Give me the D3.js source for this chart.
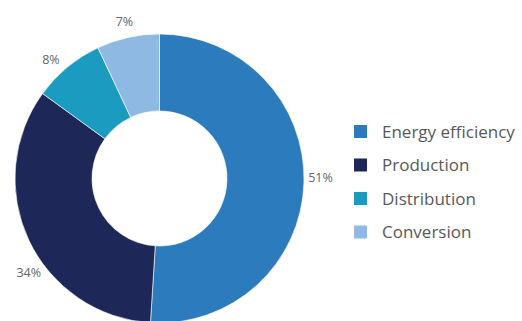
<!DOCTYPE html>
<html>
<head>
<meta charset="utf-8">
<script src="https://cdn.jsdelivr.net/npm/d3@7"></script>
<style>
  html, body { margin: 0; padding: 0; background: #fff; }
  svg { display: block; }
  text { font-family: "Open Sans", "Noto Sans", sans-serif; }
</style>
</head>
<body>
<svg id="chart" width="522" height="321"></svg>
<script>
// Share of spending by area (percent)
const categories = ["Energy efficiency", "Production", "Distribution", "Conversion"];
const shares = [51, 34, 8, 7];
const shareLabels = ["51%", "34%", "8%", "7%"];
const colors = ["#2c7bbd", "#1e2858", "#1b9bc0", "#8db9e2"];

const W = 522, H = 321;
const cx = 159.5, cy = 178.5;
const outerR = 144.5, innerR = 67.5;
const labelR = 161;
// small angular nudges (degrees) so the outside labels clear each other
const labelNudge = [-2.3, -10.5, -2.8, 0];

const svg = d3.select("#chart");

const color = d3.scaleOrdinal().domain(categories).range(colors);

const pie = d3.pie().sort(null).value(d => d.value);
const arcs = pie(categories.map((c, i) => ({ name: c, value: shares[i], label: shareLabels[i] })));

const arc = d3.arc().innerRadius(innerR).outerRadius(outerR);

const g = svg.append("g").attr("transform", `translate(${cx},${cy})`);

g.selectAll("path.slice")
  .data(arcs)
  .join("path")
  .attr("class", "slice")
  .attr("d", arc)
  .attr("fill", d => color(d.data.name))
  .attr("stroke", "#ffffff")
  .attr("stroke-width", 0.6);

g.selectAll("text.pct")
  .data(arcs)
  .join("text")
  .attr("class", "pct")
  .attr("transform", (d, i) => {
    const a = (d.startAngle + d.endAngle) / 2 + labelNudge[i] * Math.PI / 180;
    return `translate(${labelR * Math.sin(a)},${-labelR * Math.cos(a)})`;
  })
  .attr("text-anchor", "middle")
  .attr("dy", "0.36em")
  .attr("font-size", 12.5)
  .attr("fill", "#666666")
  .text(d => d.data.label);

// legend
const legendY = d3.scalePoint().domain(categories).range([131.5, 232]);
const legend = svg.append("g");
const items = legend.selectAll("g.item")
  .data(categories)
  .join("g")
  .attr("class", "item")
  .attr("transform", d => `translate(354,${legendY(d)})`);

items.append("rect")
  .attr("x", 0).attr("y", -6.5)
  .attr("width", 13).attr("height", 13)
  .attr("fill", d => color(d));

items.append("text")
  .attr("x", 28)
  .attr("y", 6)
  .attr("font-size", 17)
  .attr("fill", "#595959")
  .text(d => d);
</script>
</body>
</html>
